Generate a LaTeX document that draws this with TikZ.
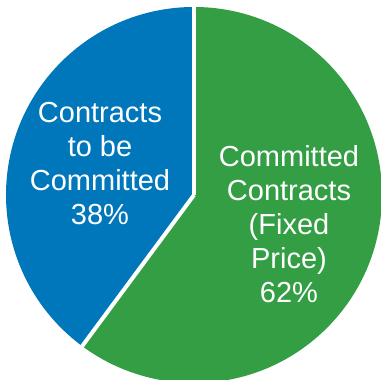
\documentclass[tikz,border=0pt]{standalone}
\usepackage{fontspec}
\setmainfont{Liberation Sans}
\usetikzlibrary{calc}
\definecolor{pieblue}{RGB}{0,119,187}
\definecolor{piegreen}{RGB}{51,158,68}
\tikzset{
  slicetext/.style={text=white, align=center, inner sep=0pt, font=\fontsize{29}{34}\selectfont},
  gapline/.style={white, line width=4pt}
}

\begin{document}
\begin{tikzpicture}[x=1pt, y=1pt]
	%%%%% START %%%%%
	
	\useasboundingbox (0, 0) rectangle (381, 380);
	\clip (0, 0) rectangle (381, 380);
	
	\coordinate (O) at (194, 185);
	\coordinate (rimtop) at ($(O)+(90:195)$);
	\coordinate (rimcut) at ($(O)+(233.5:195)$);
	
	\fill[piegreen] (O) -- ++(90:188) arc (90:-126.5:188) -- cycle;
	\fill[pieblue] (O) -- ++(90:188) arc (90:233.5:188) -- cycle;
	
	\draw[gapline] (O) -- (rimtop);
	\draw[gapline] (O) -- (rimcut);
	
	\node[slicetext] (blueLabel) at (100, 216.5) {Contracts\\to be\\Committed\\38\%};
	\node[slicetext] (greenLabel) at (289, 155.5) {Committed\\Contracts\\(Fixed\\Price)\\62\%};
	
	%%%%% END %%%%%
\end{tikzpicture}
\end{document}
